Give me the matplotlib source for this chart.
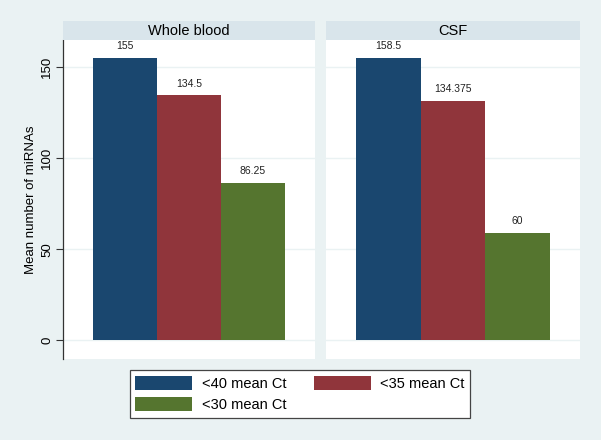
import matplotlib
matplotlib.use('Agg')
import matplotlib.pyplot as plt
from matplotlib.patches import Patch

plt.rcParams['font.family'] = ['Liberation Sans', 'DejaVu Sans']

# data
panels = ['Whole blood', 'CSF']
series = ['<40 mean Ct', '<35 mean Ct', '<30 mean Ct']
# bar heights as drawn in the picture
heights = {'Whole blood': [155, 134.5, 86.25],
           'CSF': [155, 131.3, 59]}
# value labels printed above the bars
labels = {'Whole blood': ['155', '134.5', '86.25'],
          'CSF': ['158.5', '134.375', '60']}
yticks = [0, 50, 100, 150]

colors = ['#1a476f', '#90353b', '#55752f']
bg = '#eaf2f3'
strip_col = '#d9e5eb'

W, H = 601, 440
fig = plt.figure(figsize=(W / 100, H / 100), dpi=100, facecolor=bg)

panel_x = [(63, 315), (326, 580)]
top, bottom = 40, 359

for i, name in enumerate(panels):
    x0, x1 = panel_x[i]
    ax = fig.add_axes([x0 / W, 1 - bottom / H, (x1 - x0) / W, (bottom - top) / H])
    ax.set_facecolor('white')
    for j, v in enumerate(heights[name]):
        ax.bar(j, v, width=1.0, color=colors[j], edgecolor='none', zorder=3)
        ax.annotate(labels[name][j], (j, v), xytext=(0, 5), textcoords='offset points',
                    ha='center', va='bottom', fontsize=7.5, color='#222222')
    ax.set_xlim(-0.97, 2.97)
    ax.set_ylim(-10.4, 165)
    ax.set_yticks(yticks)
    for t in yticks:
        ax.axhline(t, color=bg, lw=1, zorder=1)
    ax.set_xticks([])
    for s in ax.spines.values():
        s.set_visible(False)
    if i == 0:
        ax.spines['left'].set_visible(True)
        ax.spines['left'].set_color('#333333')
        ax.spines['left'].set_linewidth(0.9)
        ax.tick_params(axis='y', length=5, width=0.8, color='#333333', labelsize=9.5,
                       labelrotation=90, pad=2)
        for lab in ax.get_yticklabels():
            lab.set_va('center')
        ax.set_ylabel('Mean number of miRNAs', fontsize=9.5, labelpad=3)
    else:
        ax.set_yticks([])

    # header strip
    sax = fig.add_axes([x0 / W, 1 - top / H, (x1 - x0) / W, 19 / H])
    sax.set_facecolor(strip_col)
    sax.set_xticks([])
    sax.set_yticks([])
    for s in sax.spines.values():
        s.set_visible(False)
    sax.text(0.5, 0.45, name, ha='center', va='center', fontsize=10.5, transform=sax.transAxes)

handles = [Patch(facecolor=c, edgecolor='none') for c in colors]
# reorder so the legend reads row-wise
order = [0, 2, 1]
leg = fig.legend([handles[k] for k in order], [series[k] for k in order], ncol=2,
                 loc='center', bbox_to_anchor=(300 / W, 1 - 394 / H),
                 fontsize=10.5, frameon=True, fancybox=False, edgecolor='#444444',
                 framealpha=1, handlelength=3.9, handleheight=1.05, columnspacing=1.9,
                 handletextpad=0.65, labelspacing=0.45, borderpad=0.4)
leg.get_frame().set_linewidth(0.9)

fig.savefig('out.png', dpi=100, facecolor=bg)
